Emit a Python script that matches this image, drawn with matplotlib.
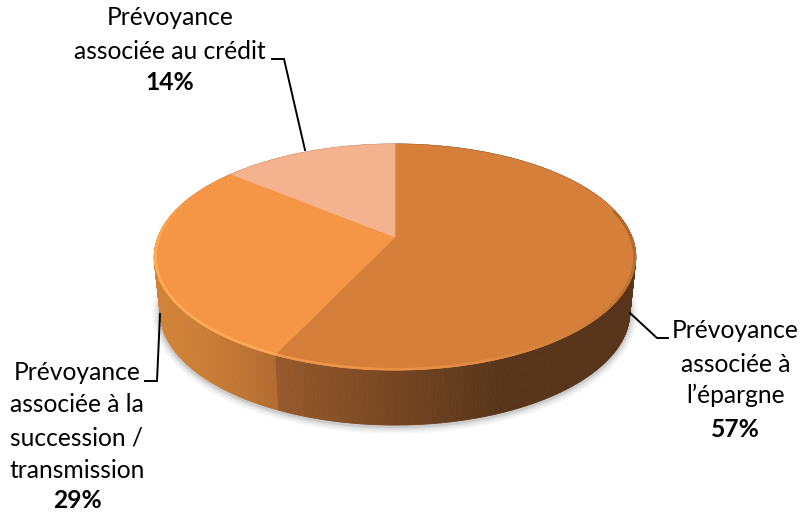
import numpy as np
import matplotlib
matplotlib.use("Agg")
import matplotlib.pyplot as plt
from matplotlib.collections import LineCollection, PolyCollection
from matplotlib.colors import to_rgb

# Shares, listed clockwise from twelve o'clock
categories = ["Prévoyance\nassociée à\nl’épargne",
              "Prévoyance\nassociée à la\nsuccession /\ntransmission",
              "Prévoyance\nassociée au crédit"]
shares = [57, 29, 14]
share_labels = ["57%", "29%", "14%"]
top_colors = ["#D67F3B", "#F49646", "#F4B38E"]

plt.rcParams["font.family"] = ["Lato", "DejaVu Sans"]

W, H = 801, 512
fig = plt.figure(figsize=(W / 100, H / 100), dpi=100)
ax = fig.add_axes([0, 0, 1, 1])
ax.set_xlim(0, W)
ax.set_ylim(H, 0)
ax.axis("off")

# Perspective of the disc
CX, CY, SX, SY, K = 395.0, 237.0, 237.0, 109.5, 0.177
DEPTH, BASE_SCALE = 55.0, 0.975


def project(t, r=1.0, scale=1.0, dy=0.0):
    """Map a clockwise angle from the top to disc coordinates on screen."""
    u, v = r * np.sin(t), r * np.cos(t)
    w = 1 + K * v
    return CX + scale * SX * u / w, CY - SY * v / w + dy


def blend(a, b, f):
    a, b = np.array(to_rgb(a)), np.array(to_rgb(b))
    return tuple(a + (b - a) * np.clip(f, 0, 1))


fractions = np.cumsum([0] + shares) / sum(shares)
edges = 2 * np.pi * fractions

# Soft shadow beneath the wall
t_all = np.linspace(0, 2 * np.pi, 721)
bx, by = project(t_all, scale=BASE_SCALE, dy=DEPTH)
for lw, alpha in zip([11, 8, 5, 3], [0.05, 0.07, 0.09, 0.12]):
    ax.plot(bx, by + 1, color="#555555", lw=lw, alpha=alpha, zorder=1,
            solid_capstyle="round")


# Outer wall, built back to front from short facets
def wall_color(t, x):
    if t < edges[1]:
        return blend("#97592B", "#57341A", (x - 277) / 225)
    if t < edges[2]:
        return blend("#D28339", "#B26A30", ((x - 154) / 123) ** 1.6)
    return "#B0704A"


ts = np.linspace(0, 2 * np.pi, 721)
order = np.argsort(-np.cos(ts[:-1]))
quads, colors = [], []
for i in order:
    t0, t1 = ts[i], ts[i + 1]
    x0, y0 = project(t0)
    x1, y1 = project(t1)
    x2, y2 = project(t1, scale=BASE_SCALE, dy=DEPTH)
    x3, y3 = project(t0, scale=BASE_SCALE, dy=DEPTH)
    quads.append([(x0, y0), (x1, y1), (x2, y2), (x3, y3)])
    colors.append(wall_color((t0 + t1) / 2, (x0 + x1) / 2))
ax.add_collection(PolyCollection(quads, facecolors=colors, edgecolors=colors,
                                 linewidths=0.6, zorder=2))

# Top face wedges
for start, end, color in zip(edges[:-1], edges[1:], top_colors):
    t = np.linspace(start, end, 300)
    x, y = project(t)
    ax.fill(np.r_[CX, x], np.r_[CY, y], color=color, lw=0.4, zorder=3)

# Bevel along the rim: soft dark on the right, bright on the left front
rim_t = np.linspace(np.pi * 0.42, edges[2] - 0.32, 500)
rx, ry = project(rim_t, r=0.995)
points = np.column_stack([rx, ry])
segs = np.stack([points[:-1], points[1:]], axis=1)
rim_cols = []
for t in (rim_t[:-1] + rim_t[1:]) / 2:
    if t < np.pi * 0.62:
        rim_cols.append(blend("#A9672F", "#B9722F", (t - np.pi * 0.42) / (np.pi * 0.2)))
    elif t < np.pi * 0.88:
        rim_cols.append(blend("#B9722F", "#E08A42", (t - np.pi * 0.62) / (np.pi * 0.26)))
    elif t < edges[1]:
        rim_cols.append(blend("#E08A42", "#F29A4C", (t - np.pi * 0.88) / (edges[1] - np.pi * 0.88)))
    else:
        f = (t - edges[1]) / (edges[2] - 0.32 - edges[1])
        rim_cols.append(blend("#FFAA55", "#F49646", (f - 0.7) / 0.3))
ax.add_collection(LineCollection(segs, colors=rim_cols, linewidths=1.8, zorder=4,
                                 capstyle="round"))

# Leader lines
leaders = [([630, 657, 668], [313, 338, 338]),
           ([160, 157, 145], [314, 381, 381]),
           ([305, 284, 272], [150, 59, 59])]
for lx, ly in leaders:
    ax.plot(lx, ly, color="black", lw=1.4, zorder=5, solid_joinstyle="miter")

# Callouts: category lines then bold share, placed by baseline
FS = 17.7
baselines = [[338, 372, 403, 437],
             [380, 412, 445, 478, 508],
             [25, 59, 90]]
centers = [735.5, 77, 170]
for name, pct, cx, ys in zip(categories, share_labels, centers, baselines):
    lines = name.split("\n") + [pct]
    for j, (line, y) in enumerate(zip(lines, ys)):
        weight = "bold" if j == len(lines) - 1 else "normal"
        ax.text(cx, y, line, ha="center", va="baseline", fontsize=FS,
                fontweight=weight, color="black", zorder=6)

fig.savefig("out.png", dpi=100, facecolor="white")
